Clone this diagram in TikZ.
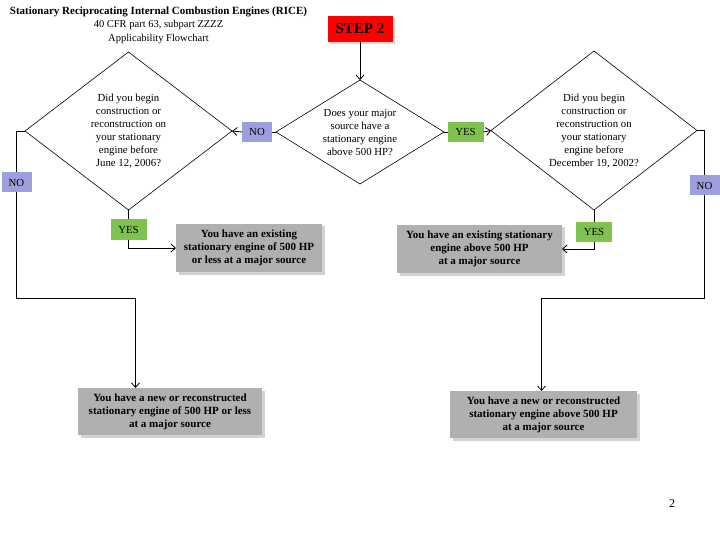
\documentclass[tikz,border=0pt]{standalone}
\usepackage{fontspec}
\setmainfont{Liberation Serif}
\usetikzlibrary{shapes.geometric,shadows,arrows.meta}
\definecolor{nofill}{RGB}{158,158,222}
\definecolor{yesfill}{RGB}{128,194,80}
\definecolor{boxgray}{RGB}{176,176,176}
\begin{document}
\begin{tikzpicture}[x=1pt,y=-1pt,
  line width=0.8pt,
  arr/.style={-{Straight Barb[length=4.5pt,width=8pt,line width=0.8pt]}},
  dia/.style={draw,shape=diamond,inner sep=0pt,outer sep=0pt,line width=0.6pt},
  diatext/.style={align=center,font=\fontsize{10.8}{13}\selectfont},
  nobox/.style={fill=nofill,inner sep=0pt,outer sep=0pt,minimum width=30pt,minimum height=20pt,font=\fontsize{10.8}{12}\selectfont},
  yesbox/.style={fill=yesfill,inner sep=0pt,outer sep=0pt,minimum width=36pt,minimum height=20pt,font=\fontsize{10.8}{12}\selectfont},
  result/.style={fill=boxgray,inner sep=0pt,outer sep=0pt,align=center,font=\bfseries\fontsize{11}{13}\selectfont,
    drop shadow={shadow xshift=2.5pt,shadow yshift=-2.5pt,opacity=0.35}},
]
\useasboundingbox (0,0) rectangle (720,540);

% title
\node[align=center,font=\fontsize{10.5}{13.5}\selectfont] (title) at (158.5,25)
  {\textbf{\fontsize{11}{13.5}\selectfont Stationary Reciprocating Internal Combustion Engines (RICE)}\\40 CFR part 63, subpart ZZZZ\\Applicability Flowchart};

% step 2
\node[fill=red,minimum width=65pt,minimum height=26pt,inner sep=0pt,outer sep=0pt,
  font=\bfseries\fontsize{15}{16}\selectfont,
  drop shadow={shadow xshift=2.5pt,shadow yshift=-2.5pt,opacity=0.35}] (step) at (360,29) {STEP 2};

% diamonds
\node[dia,minimum width=168pt,minimum height=104pt] (mid) at (360,132) {};
\node[diatext] at (360,132.5) {Does your major\\source have a\\stationary engine\\above 500 HP?};

\node[dia,minimum width=207pt,minimum height=158pt] (left) at (128.5,131) {};
\node[diatext] at (128.5,131.5) {Did you begin\\construction or\\reconstruction on\\your stationary\\engine before\\June 12, 2006?};

\node[dia,minimum width=206pt,minimum height=159pt] (right) at (594,130.5) {};
\node[diatext] at (594,131) {Did you begin\\construction or\\reconstruction on\\your stationary\\engine before\\December 19, 2002?};

% labels
\node[nobox] (noL) at (257,132) {NO};
\node[yesbox] (yesM) at (465.5,132) {YES};
\node[nobox] (noLL) at (16.5,182.5) {NO};
\node[yesbox] (yesL) at (128.5,229.5) {YES};
\node[yesbox] (yesR) at (594,232) {YES};
\node[nobox] (noRR) at (704.5,185.5) {NO};

% results
\node[result,minimum width=146pt,minimum height=48pt] (exL) at (249,248)
  {You have an existing\\stationary engine of 500 HP\\or less at a major source};
\node[result,minimum width=165pt,minimum height=48pt] (exR) at (479.5,249)
  {You have an existing stationary\\engine above 500 HP\\at a major source};
\node[result,minimum width=184pt,minimum height=47pt] (botL) at (170,411.5)
  {You have a new or reconstructed\\stationary engine of 500 HP or less\\at a major source};
\node[result,minimum width=187pt,minimum height=47pt] (botR) at (543.5,414.5)
  {You have a new or reconstructed\\stationary engine above 500 HP\\at a major source};

\coordinate (c1) at (135.5,298);
\coordinate (c2) at (541.5,298);

% connectors
\draw[arr] (step.south) -- (mid.north);
\draw (mid.west) -- (noL.east);
\draw[arr] (noL.west) -- (left.east);
\draw (mid.east) -- (yesM.west);
\draw[arr] (yesM.east) -- (right.west);
\draw (left.west) -| (noLL.north);
\draw (noLL.south) |- (c1);
\draw[arr] (c1) -- (c1 |- botL.north);
\draw (left.south) -- (yesL.north);
\draw[arr] (yesL.south) |- (exL.west);
\draw (right.south) -- (yesR.north);
\draw[arr] (yesR.south) |- (exR.east);
\draw (right.east) -| (noRR.north);
\draw (noRR.south) |- (c2);
\draw[arr] (c2) -- (c2 |- botR.north);

% page number
\node[font=\fontsize{12}{14}\selectfont] (page) at (672,504) {2};
\end{tikzpicture}
\end{document}
